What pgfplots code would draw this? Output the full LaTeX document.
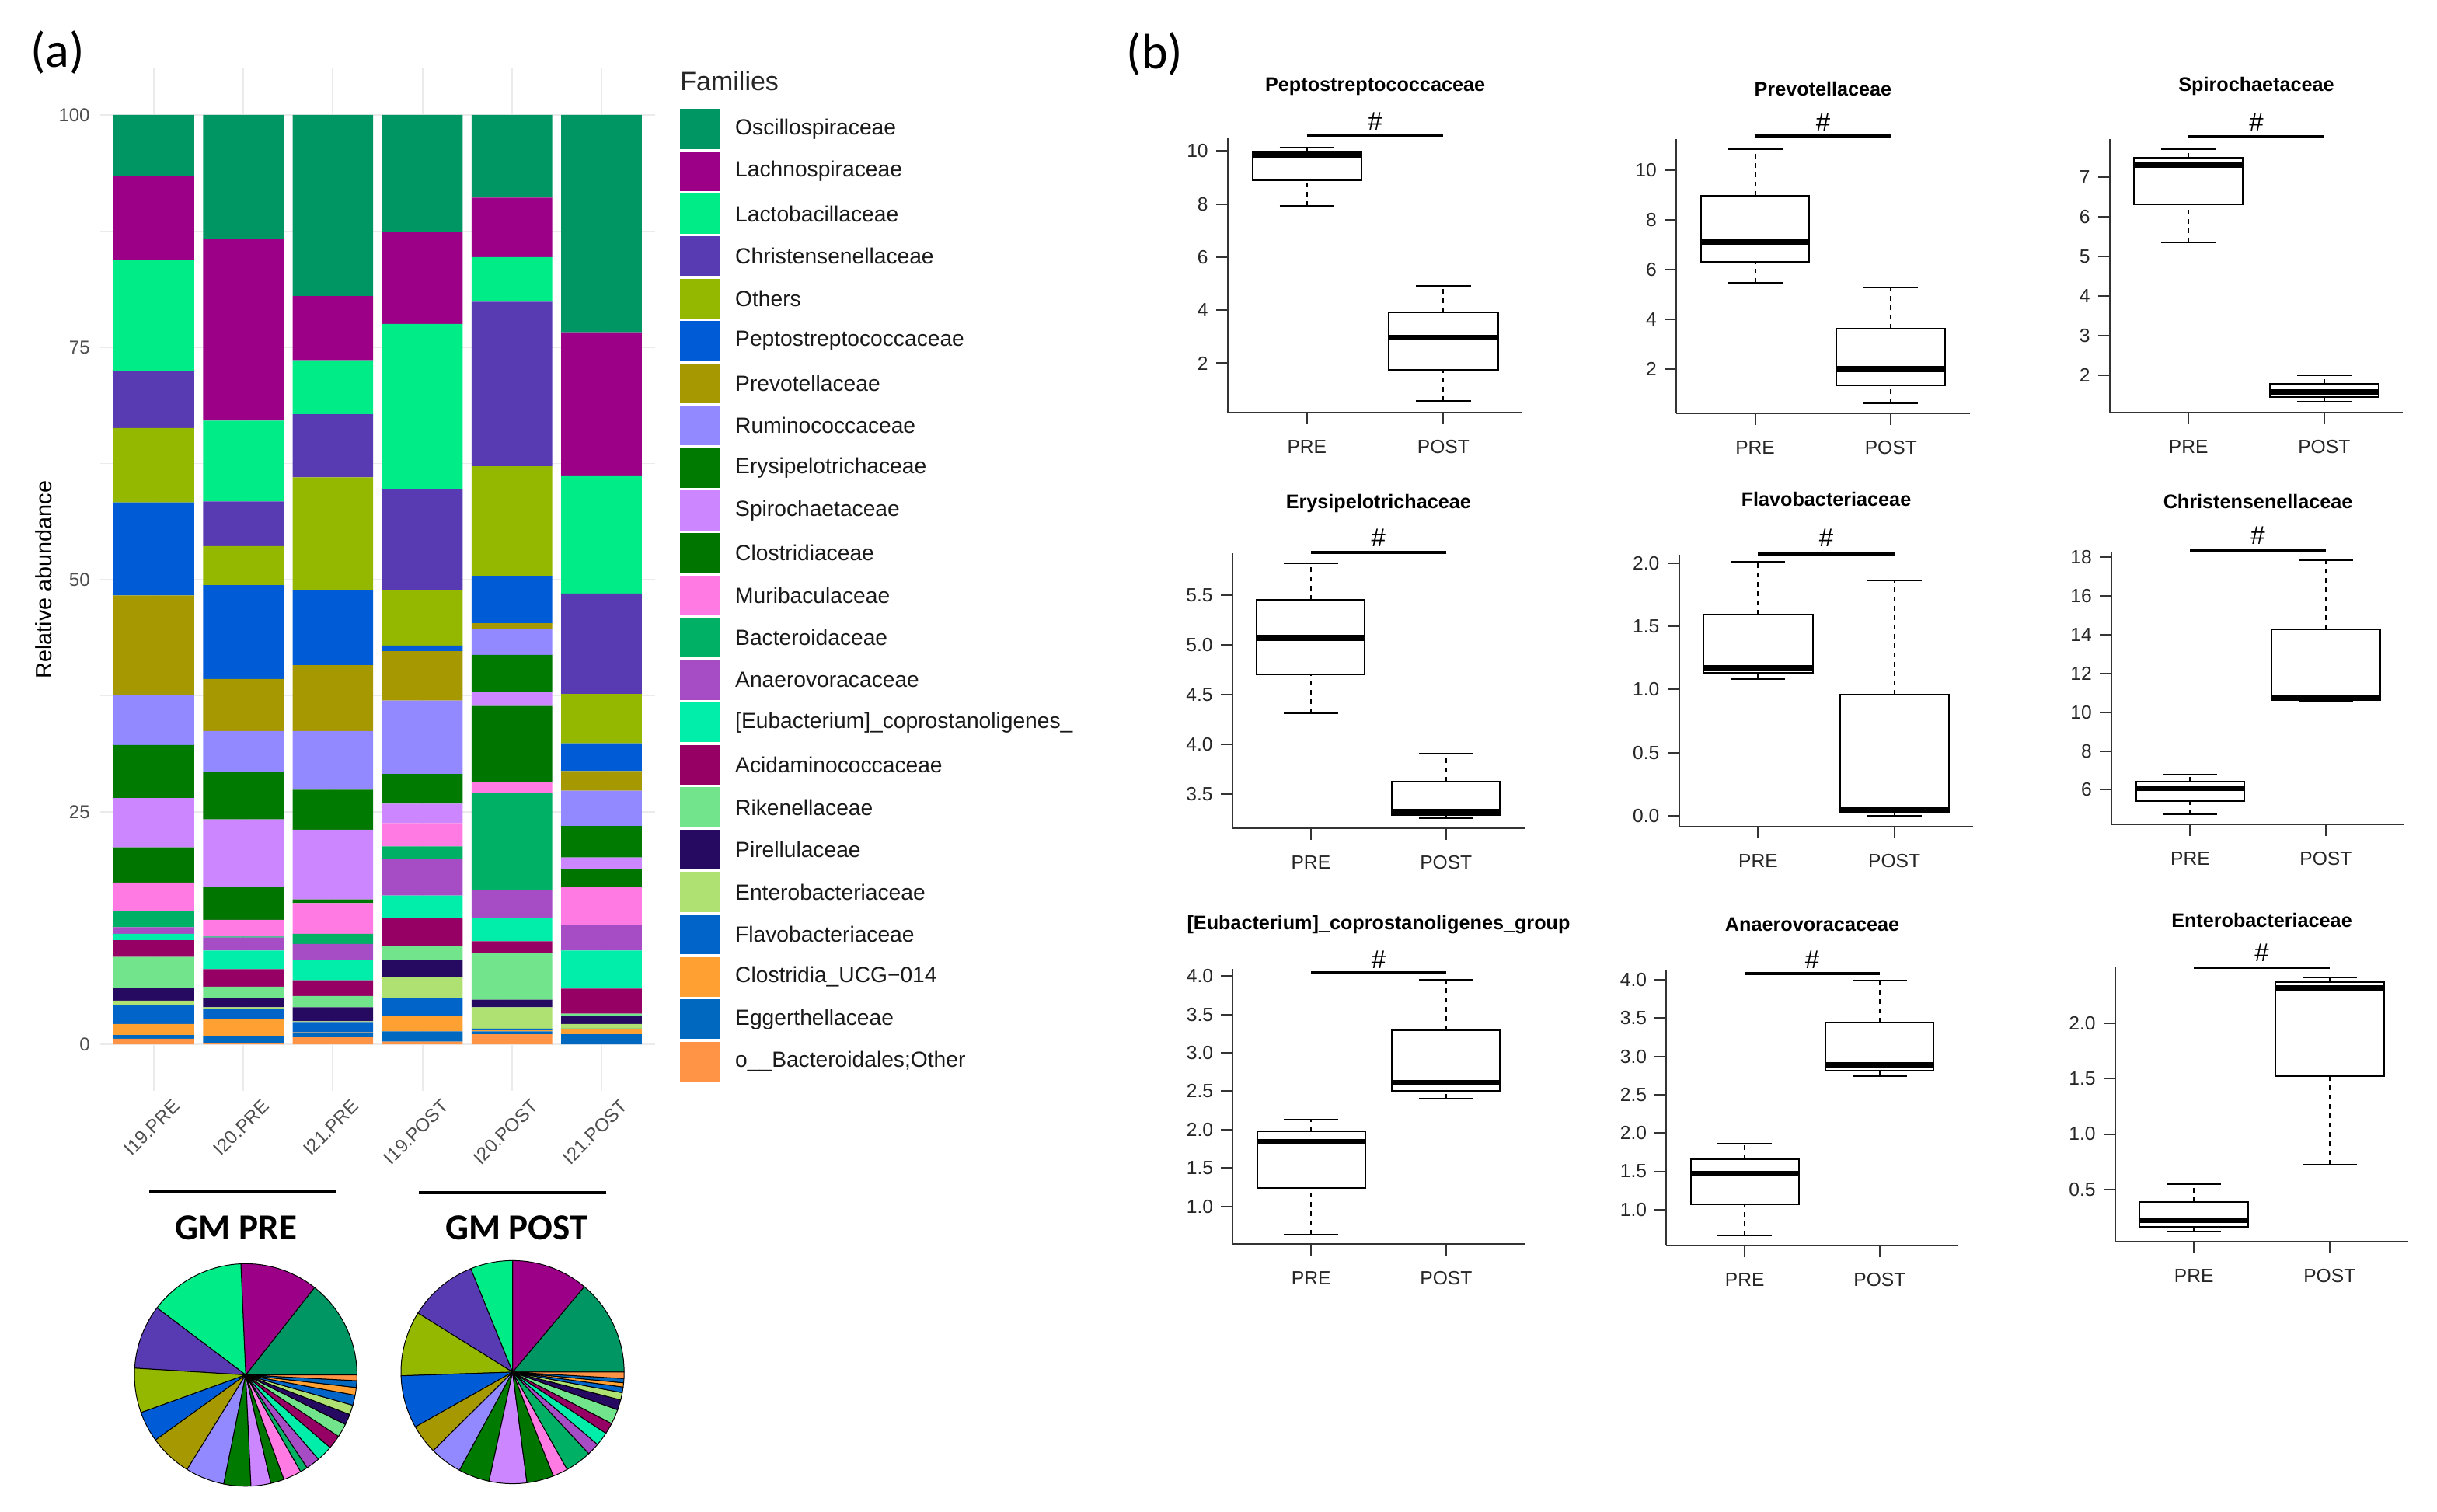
\documentclass[border=0pt]{standalone}
\usepackage{pgfplots}
\pgfplotsset{compat=1.18}
\usepgfplotslibrary{statistics}
\usepackage{pgfplotstable}
\usepackage{fontspec}
\setmainfont{Liberation Sans}
\newfontfamily\calib{Carlito}

\definecolor{cosc}{HTML}{009664}
\definecolor{clch}{HTML}{9B0087}
\definecolor{clct}{HTML}{00EC87}
\definecolor{cchr}{HTML}{583AB2}
\definecolor{coth}{HTML}{94B800}
\definecolor{cpep}{HTML}{005CD6}
\definecolor{cprv}{HTML}{A69800}
\definecolor{crum}{HTML}{9288FF}
\definecolor{cery}{HTML}{007A00}
\definecolor{cspi}{HTML}{CC86FF}
\definecolor{cclo}{HTML}{007500}
\definecolor{cmur}{HTML}{FF7AE2}
\definecolor{cbac}{HTML}{00B064}
\definecolor{cana}{HTML}{A64CC4}
\definecolor{ceub}{HTML}{00EEAA}
\definecolor{caci}{HTML}{960064}
\definecolor{crik}{HTML}{72E48C}
\definecolor{cpir}{HTML}{260A62}
\definecolor{cent}{HTML}{AEE072}
\definecolor{cfla}{HTML}{0064C8}
\definecolor{cucg}{HTML}{FFA032}
\definecolor{cegg}{HTML}{0068BE}
\definecolor{cobo}{HTML}{FF9446}
\definecolor{gridgray}{gray}{0.92}
\definecolor{axtext}{HTML}{4D4D4D}

% relative abundance (%) per sample, one column per family
\pgfplotstableread{
x osc lch lct chr oth pep prv rum ery spi clo mur bac ana eub aci rik pir ent fla ucg egg obo
1 6.6 9.0 12.0 6.1 8.0 10.0 10.7 5.4 5.7 5.3 3.8 3.1 1.7 0.7 0.7 1.8 3.3 1.4 0.5 2.0 1.2 0.4 0.6
2 13.4 19.5 8.7 4.8 4.2 10.1 5.6 4.4 5.1 7.3 3.5 1.8 0.1 1.4 2.0 1.9 1.2 1.0 0.2 1.1 1.8 0.75 0.15
3 19.5 6.9 5.8 6.8 12.1 8.1 7.1 6.3 4.3 7.5 0.4 3.3 1.1 1.7 2.2 1.7 1.2 1.5 0.1 1.1 0.1 0.45 0.75
4 12.6 9.9 17.8 10.8 6.0 0.6 5.3 7.9 3.2 2.1 0.0 2.5 1.4 3.9 2.4 3.0 1.5 1.9 2.2 1.9 1.7 1.1 0.3
5 8.9 6.4 4.8 17.7 11.8 5.1 0.6 2.8 4.0 1.5 8.2 1.2 10.4 3.0 2.5 1.3 5.0 0.8 2.3 0.2 0.1 0.3 1.1
6 23.4 15.4 12.7 10.8 5.3 3.0 2.1 3.8 3.4 1.3 1.9 4.1 0.0 2.7 4.1 2.7 0.2 0.9 0.5 0.1 0.5 1.1 0.0
}\abund

\newcommand\tickfont{\fontsize{12.3}{14}\selectfont}
\newcommand\ttlfont{\fontsize{12.6}{15}\selectfont\bfseries}
\newcommand\hashfont{\fontsize{16.5}{18}\selectfont}

\pgfplotsset{
  boxplot/draw/lower whisker/.code={%
    \draw[black, line width=1pt, dash pattern=on 3pt off 3pt]
      (boxplot box cs:\pgfplotsboxplotvalue{lower whisker},0.5) --
      (boxplot box cs:\pgfplotsboxplotvalue{lower quartile},0.5);
    \draw[black, line width=1pt, solid]
      (boxplot whisker cs:\pgfplotsboxplotvalue{lower whisker},0) --
      (boxplot whisker cs:\pgfplotsboxplotvalue{lower whisker},1);
  },
  boxplot/draw/upper whisker/.code={%
    \draw[black, line width=1pt, dash pattern=on 3pt off 3pt]
      (boxplot box cs:\pgfplotsboxplotvalue{upper quartile},0.5) --
      (boxplot box cs:\pgfplotsboxplotvalue{upper whisker},0.5);
    \draw[black, line width=1pt, solid]
      (boxplot whisker cs:\pgfplotsboxplotvalue{upper whisker},0) --
      (boxplot whisker cs:\pgfplotsboxplotvalue{upper whisker},1);
  },
  boxplot/every median/.style={line width=3.6pt},
  bxp/.style={
    scale only axis, anchor=south west,
    xmin=0.42, xmax=2.58,
    axis x line*=bottom, axis y line*=left,
    axis line style={-, black!80, line width=1pt},
    xtick={1,2}, xticklabels={PRE,POST},
    tick align=outside, major tick length=7.5pt,
    tick style={black!80, line width=1pt},
    tick label style={font=\tickfont, text=black!85, inner sep=0pt},
    xticklabel style={anchor=north, yshift=-10pt},
    yticklabel style={anchor=east, xshift=-5pt},
    /pgf/number format/assume math mode=true,
    clip=false,
    boxplot/draw direction=y,
  },
  dec1/.style={yticklabel style={/pgf/number format/fixed, /pgf/number format/fixed zerofill, /pgf/number format/precision=1}},
}

\newcommand\bx[6]{\addplot[black, line width=1pt, boxplot prepared={draw position=#1, lower whisker=#2, lower quartile=#3, median=#4, upper quartile=#5, upper whisker=#6, box extend=0.8, whisker extend=0.4}] coordinates {};}
\newcommand\sig[2]{\draw[black, line width=1.9pt] (axis cs:1,#1) -- (axis cs:2,#1);
  \node[font=\hashfont, inner sep=0pt, yshift=#2pt] at (axis cs:1.5,#1) {\#};}
\newcommand\ttl[2]{\node[font=\ttlfont, inner sep=0pt, yshift=#2pt] at (rel axis cs:0.5,1) {#1};}
\newcommand\pieslice[3]{\addplot[fill=#1, draw=black, line width=0.5pt, domain=#2:#3, samples=16] ({cos(x)},{sin(x)}) -- (axis cs:0,0) -- cycle;}

\begin{document}
\begin{tikzpicture}[x=1pt, y=1pt]
\useasboundingbox (0,0) rectangle (1568,973);

% ---------------- panel (a) -----------------
\node[font=\calib\fontsize{32}{34}\selectfont] at (37,939) {(a)};

\begin{axis}[
  at={(64.4pt,271pt)}, anchor=south west, scale only axis,
  width=357.2pt, height=658pt,
  ybar stacked, bar width=0.9,
  xmin=0.4, xmax=6.6, ymin=-5, ymax=105,
  xtick={1,2,3,4,5,6},
  xticklabels={I19.PRE,I20.PRE,I21.PRE,I19.POST,I20.POST,I21.POST},
  ytick={0,25,50,75,100},
  minor ytick={12.5,37.5,62.5,87.5},
  grid=both,
  major grid style={gridgray, line width=1.1pt},
  minor grid style={gridgray, line width=0.55pt},
  axis line style={draw=none},
  major tick length=0pt, minor tick length=0pt,
  tick label style={font=\fontsize{12}{14}\selectfont, text=axtext, inner sep=0pt},
  yticklabel style={anchor=east, xshift=-6.4pt},
  xticklabel style={xshift=11.5pt, yshift=-4.6pt, rotate=45, anchor=north east},
  /pgf/number format/assume math mode=true,
  ylabel={Relative abundance},
  ylabel style={at={(axis description cs:-0.102,0.5)}, anchor=center, font=\fontsize{14.4}{16}\selectfont, text=black},
]
\pgfplotsinvokeforeach{obo,egg,ucg,fla,ent,pir,rik,aci,eub,ana,bac,mur,clo,spi,ery,rum,prv,pep,oth,chr,lct,lch,osc}{
  \addplot[fill=c#1, draw=none] table[x=x, y=#1] {\abund};
}
\end{axis}

% legend
\node[anchor=west, inner sep=0pt, font=\fontsize{17}{19}\selectfont, text=black!85] at (437.5,920.7) {Families};
\foreach \c/\n [count=\i from 0] in {
 cosc/Oscillospiraceae, clch/Lachnospiraceae, clct/Lactobacillaceae, cchr/Christensenellaceae,
 coth/Others, cpep/Peptostreptococcaceae, cprv/Prevotellaceae, crum/Ruminococcaceae,
 cery/Erysipelotrichaceae, cspi/Spirochaetaceae, cclo/Clostridiaceae, cmur/Muribaculaceae,
 cbac/Bacteroidaceae, cana/Anaerovoracaceae, ceub/{[Eubacterium]\_coprostanoligenes\_},
 caci/Acidaminococcaceae, crik/Rikenellaceae, cpir/Pirellulaceae, cent/Enterobacteriaceae,
 cfla/Flavobacteriaceae, cucg/{Clostridia\_UCG−014}, cegg/Eggerthellaceae, cobo/{o\_\_Bacteroidales;Other}} {
  \pgfmathsetmacro\yt{973-70.2-27.28*\i}
  \fill[\c] (437.5,\yt) rectangle (463.4,\yt-25.6);
  \node[anchor=west, inner sep=0pt, font=\fontsize{14.1}{16}\selectfont, text=black!90] at (472.9,\yt-12.8) {\n};
}

% group bars and labels
\draw[line width=2.2pt] (96,206.4) -- (216,206.4);
\draw[line width=2.2pt] (269.4,205.5) -- (390,205.5);
\node[font=\calib\bfseries\fontsize{23.5}{26}\selectfont] at (152,183) {GM PRE};
\node[font=\calib\bfseries\fontsize{23.5}{26}\selectfont] at (332.4,183) {GM POST};

% pies
\begin{axis}[at={(158.1pt,88.2pt)}, anchor=center, scale only axis, width=143.2pt, height=143.2pt,
  xmin=-1, xmax=1, ymin=-1, ymax=1, hide axis, clip=false]
\pieslice{cosc}{0}{51.8}
\pieslice{clch}{51.8}{92.5}
\pieslice{clct}{92.5}{142.9}
\pieslice{cchr}{142.9}{176.5}
\pieslice{coth}{176.5}{199.8}
\pieslice{cpep}{199.8}{215.8}
\pieslice{cprv}{215.8}{238.2}
\pieslice{crum}{238.2}{258.6}
\pieslice{cery}{258.6}{272.7}
\pieslice{cspi}{272.7}{283.1}
\pieslice{cclo}{283.1}{290.1}
\pieslice{cmur}{290.1}{299.6}
\pieslice{cbac}{299.6}{303.5}
\pieslice{cana}{303.5}{310.8}
\pieslice{ceub}{310.8}{319.3}
\pieslice{caci}{319.3}{326.5}
\pieslice{crik}{326.5}{333.6}
\pieslice{cpir}{333.6}{339.2}
\pieslice{cent}{339.2}{344.2}
\pieslice{cfla}{344.2}{349.5}
\pieslice{cucg}{349.5}{353.5}
\pieslice{cegg}{353.5}{357}
\pieslice{cobo}{357}{360}
\end{axis}

\begin{axis}[at={(329.8pt,90pt)}, anchor=center, scale only axis, width=143.6pt, height=143.6pt,
  xmin=-1, xmax=1, ymin=-1, ymax=1, hide axis, clip=false]
\pieslice{cosc}{0}{50.0}
\pieslice{clch}{50.0}{90.0}
\pieslice{clct}{90.0}{112.0}
\pieslice{cchr}{112.0}{148.0}
\pieslice{coth}{148.0}{181.9}
\pieslice{cpep}{181.9}{209.4}
\pieslice{cprv}{209.4}{224.7}
\pieslice{crum}{224.7}{241.6}
\pieslice{cery}{241.6}{257.8}
\pieslice{cspi}{257.8}{277.4}
\pieslice{cclo}{277.4}{291.4}
\pieslice{cmur}{291.4}{299.3}
\pieslice{cbac}{299.3}{313.1}
\pieslice{cana}{313.1}{319.6}
\pieslice{ceub}{319.6}{326.8}
\pieslice{caci}{326.8}{332.6}
\pieslice{crik}{332.6}{340.3}
\pieslice{cpir}{340.3}{345.6}
\pieslice{cent}{345.6}{349.4}
\pieslice{cfla}{349.4}{352.3}
\pieslice{cucg}{352.3}{354.5}
\pieslice{cegg}{354.5}{356.7}
\pieslice{cobo}{356.7}{360}
\end{axis}

% ---------------- panel (b) -----------------
\node[font=\calib\fontsize{32}{34}\selectfont] at (743,938) {(b)};

\begin{axis}[bxp, at={(790pt,707.5pt)}, width=189.6pt, height=176.7pt, ymin=0.14, ymax=10.49, ytick={2,4,6,8,10}]
\bx{1}{7.93}{8.89}{9.85}{9.98}{10.12}
\bx{2}{0.58}{1.76}{2.96}{3.93}{4.92}
\sig{10.59}{9.1}
\ttl{Peptostreptococcaceae}{33.1}
\end{axis}

\begin{axis}[bxp, at={(1078.6pt,707pt)}, width=188.7pt, height=176.4pt, ymin=0.22, ymax=11.25, ytick={2,4,6,8,10}]
\bx{1}{5.48}{6.33}{7.11}{8.97}{10.84}
\bx{2}{0.63}{1.33}{2.0}{3.62}{5.27}
\sig{11.37}{8.9}
\ttl{Prevotellaceae}{32.1}
\end{axis}

\begin{axis}[bxp, at={(1357.5pt,707.5pt)}, width=188.5pt, height=175.9pt, ymin=1.05, ymax=7.97, ytick={2,3,4,5,6,7}]
\bx{1}{5.35}{6.33}{7.32}{7.51}{7.72}
\bx{2}{1.32}{1.44}{1.57}{1.78}{1.99}
\sig{8.04}{9.3}
\ttl{Spirochaetaceae}{33.9}
\end{axis}

\begin{axis}[bxp, dec1, at={(793pt,440pt)}, width=187.8pt, height=177pt, ymin=3.16, ymax=5.92, ytick={3.5,4,4.5,5,5.5}]
\bx{1}{4.31}{4.70}{5.07}{5.45}{5.82}
\bx{2}{3.26}{3.29}{3.33}{3.63}{3.91}
\sig{5.925}{9.5}
\ttl{Erysipelotrichaceae}{32}
\end{axis}

\begin{axis}[bxp, dec1, at={(1080.4pt,440.9pt)}, width=189.2pt, height=175.1pt, ymin=-0.088, ymax=2.066, ytick={0,0.5,1,1.5,2}]
\bx{1}{1.08}{1.13}{1.17}{1.59}{2.01}
\bx{2}{0.0}{0.03}{0.05}{0.96}{1.86}
\sig{2.07}{10.4}
\ttl{Flavobacteriaceae}{35.6}
\end{axis}

\begin{axis}[bxp, at={(1358.6pt,442.3pt)}, width=188.4pt, height=175.3pt, ymin=4.2, ymax=18.25, ytick={6,8,10,12,14,16,18}]
\bx{1}{4.75}{5.43}{6.07}{6.43}{6.79}
\bx{2}{10.6}{10.61}{10.77}{14.26}{17.84}
\sig{18.32}{9.9}
\ttl{Christensenellaceae}{32.4}
\end{axis}

\begin{axis}[bxp, dec1, at={(793.2pt,172.3pt)}, width=187.6pt, height=177.1pt, ymin=0.51, ymax=4.09, ytick={1,1.5,2,2.5,3,3.5,4}]
\bx{1}{0.64}{1.24}{1.84}{1.98}{2.13}
\bx{2}{2.40}{2.51}{2.61}{3.29}{3.95}
\sig{4.04}{8.6}
\ttl{[Eubacterium]\_coprostanoligenes\_group}{28.6}
\end{axis}

\begin{axis}[bxp, dec1, at={(1072.2pt,171.4pt)}, width=187.6pt, height=177pt, ymin=0.53, ymax=4.12, ytick={1,1.5,2,2.5,3,3.5,4}]
\bx{1}{0.66}{1.07}{1.47}{1.66}{1.86}
\bx{2}{2.74}{2.81}{2.89}{3.44}{3.99}
\sig{4.08}{9}
\ttl{Anaerovoracaceae}{29.6}
\end{axis}

\begin{axis}[bxp, dec1, at={(1361pt,174pt)}, width=188.5pt, height=177pt, ymin=0.03, ymax=2.51, ytick={0.5,1,1.5,2}]
\bx{1}{0.124}{0.165}{0.22}{0.385}{0.55}
\bx{2}{0.72}{1.52}{2.32}{2.37}{2.41}
\sig{2.50}{9.6}
\ttl{Enterobacteriaceae}{29.7}
\end{axis}

\end{tikzpicture}
\end{document}
